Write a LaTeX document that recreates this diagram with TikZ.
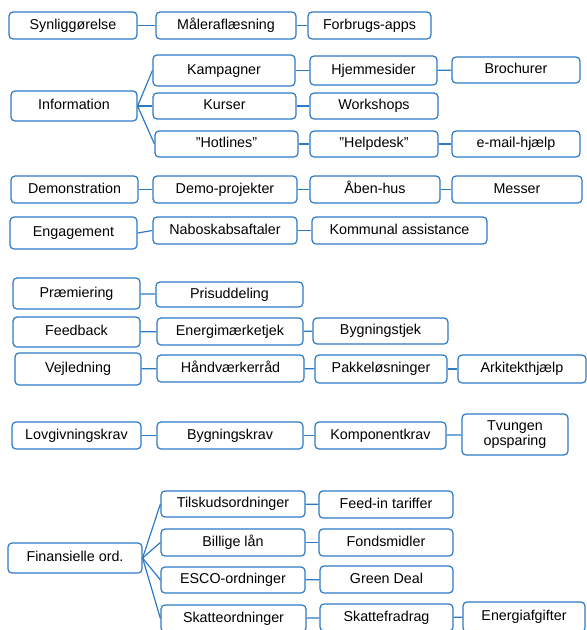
\documentclass[tikz,border=0pt]{standalone}
\usepackage{fontspec}
\setmainfont{Liberation Sans}
\definecolor{boksblaa}{RGB}{44,122,198}
\newcommand{\anf}{\symbol{34}}

\begin{document}
\begin{tikzpicture}[x=1pt, y=-1pt]
        % Stil for boksene
        \tikzstyle{boks}=[rectangle, draw=boksblaa, line width=1.2pt, rounded corners=4pt, fill=white,
                          minimum height=27pt, inner sep=1pt, align=center,
                          text height=10.5pt, text depth=3pt,
                          font=\fontsize{14.3}{13}\selectfont]
        \tikzstyle{streg}=[draw=boksblaa, line width=1.2pt]

        \useasboundingbox (0,0) rectangle (587,630);
        \clip (0,0) rectangle (587,630);

        % Synliggørelse
        \node[boks, minimum width=128pt] (synlig) at (73, 25.5) {Synliggørelse};
        \node[boks, minimum width=140pt] (maaler) at (226, 25.5) {Måleraflæsning};
        \node[boks, minimum width=123pt] (apps) at (369.5, 25.5) {Forbrugs-apps};

        % Information
        \node[boks, minimum width=126pt, minimum height=30pt] (info) at (74, 106) {Information};
        \node[boks, minimum width=142pt, minimum height=31pt] (kamp) at (224, 70.5) {Kampagner};
        \node[boks, minimum width=127pt, minimum height=29pt] (hjem) at (373.5, 70.5) {Hjemmesider};
        \node[boks, minimum width=128pt, minimum height=26pt] (broch) at (516, 70) {Brochurer};
        \node[boks, minimum width=143pt, minimum height=26pt] (kurs) at (224.5, 106) {Kurser};
        \node[boks, minimum width=128pt, minimum height=26pt] (work) at (374, 106) {Workshops};
        \node[boks, minimum width=143pt, minimum height=26pt] (hot) at (226.5, 144) {\anf Hotlines\anf};
        \node[boks, minimum width=128pt, minimum height=26pt] (help) at (374, 144) {\anf Helpdesk\anf};
        \node[boks, minimum width=128pt, minimum height=26pt] (mail) at (516, 144) {e-mail-hjælp};

        % Demonstration og engagement
        \node[boks, minimum width=127pt] (demo) at (74.5, 189.5) {Demonstration};
        \node[boks, minimum width=144pt] (demoproj) at (225, 189.5) {Demo-projekter};
        \node[boks, minimum width=130pt] (aaben) at (375, 189.5) {Åben-hus};
        \node[boks, minimum width=130pt] (messer) at (517, 189.5) {Messer};
        \node[boks, minimum width=127pt, minimum height=32pt] (engag) at (73.5, 233) {Engagement};
        \node[boks, minimum width=144pt] (nabo) at (225, 230.5) {Naboskabsaftaler};
        \node[boks, minimum width=175pt] (kommune) at (399.5, 230.5) {Kommunal assistance};

        % Præmiering, feedback og vejledning
        \node[boks, minimum width=127pt, minimum height=31pt] (praem) at (76.5, 293.5) {Præmiering};
        \node[boks, minimum width=147pt, minimum height=25pt] (pris) at (229.5, 294.5) {Prisuddeling};
        \node[boks, minimum width=127pt, minimum height=30pt] (feed) at (76.5, 332) {Feedback};
        \node[boks, minimum width=146pt] (emtjek) at (230, 331.5) {Energimærketjek};
        \node[boks, minimum width=135pt, minimum height=26pt] (bygtjek) at (380.5, 331) {Bygningstjek};
        \node[boks, minimum width=126pt, minimum height=32pt] (vejl) at (78, 369) {Vejledning};
        \node[boks, minimum width=147pt] (haandv) at (230.5, 368.5) {Håndværkerråd};
        \node[boks, minimum width=132pt, minimum height=28pt] (pakke) at (381, 369) {Pakkeløsninger};
        \node[boks, minimum width=128pt, minimum height=28pt] (arkit) at (522, 369) {Arkitekthjælp};

        % Lovgivning
        \node[boks, minimum width=129pt] (lov) at (76.5, 435.5) {Lovgivningskrav};
        \node[boks, minimum width=146pt] (bygkrav) at (230, 435.5) {Bygningskrav};
        \node[boks, minimum width=131pt] (kompkrav) at (380.5, 435.5) {Komponentkrav};
        \node[boks, minimum width=106pt, minimum height=41pt, text height=, text depth=,
              font=\fontsize{14.3}{11.5}\selectfont] (tvungen) at (515, 434.5) {Tvungen\\opsparing};

        % Finansielle ordninger
        \node[boks, minimum width=134pt, minimum height=30pt] (finans) at (75, 558) {Finansielle ord.};
        \node[boks, minimum width=144pt, minimum height=26pt] (tilskud) at (233, 504) {Tilskudsordninger};
        \node[boks, minimum width=134pt] (feedin) at (386, 504.5) {Feed-in tariffer};
        \node[boks, minimum width=144pt] (billig) at (233, 542.5) {Billige lån};
        \node[boks, minimum width=134pt] (fonds) at (386, 542.5) {Fondsmidler};
        \node[boks, minimum width=144pt, minimum height=26pt] (esco) at (233, 580) {ESCO-ordninger};
        \node[boks, minimum width=133pt] (green) at (386.5, 579.5) {Green Deal};
        \node[boks, minimum width=145pt] (skat) at (233.5, 618.5) {Skatteordninger};
        \node[boks, minimum width=133pt] (fradrag) at (386.5, 617.5) {Skattefradrag};
        \node[boks, minimum width=122pt, minimum height=30pt] (afgift) at (524, 617) {Energiafgifter};

        % Forbindelser
        \draw[streg] (synlig) -- (maaler);
        \draw[streg] (maaler) -- (apps);
        \draw[streg] (info.east) -- (kamp.west);
        \draw[streg] (info.east) -- (kurs.west);
        \draw[streg] (info.east) -- (hot.west);
        \draw[streg] (kamp) -- (hjem);
        \draw[streg] (hjem) -- (broch);
        \draw[streg] (kurs) -- (work);
        \draw[streg] (hot) -- (help);
        \draw[streg] (help) -- (mail);
        \draw[streg] (demo) -- (demoproj);
        \draw[streg] (demoproj) -- (aaben);
        \draw[streg] (aaben) -- (messer);
        \draw[streg] (engag.east) -- (nabo.west);
        \draw[streg] (nabo) -- (kommune);
        \draw[streg] (praem) -- (pris);
        \draw[streg] (feed) -- (emtjek);
        \draw[streg] (emtjek) -- (bygtjek);
        \draw[streg] (vejl) -- (haandv);
        \draw[streg] (haandv) -- (pakke);
        \draw[streg] (pakke) -- (arkit);
        \draw[streg] (lov) -- (bygkrav);
        \draw[streg] (bygkrav) -- (kompkrav);
        \draw[streg] (kompkrav) -- (tvungen);
        \draw[streg] (finans.east) -- (tilskud.west);
        \draw[streg] (finans.east) -- (billig.west);
        \draw[streg] (finans.east) -- (esco.west);
        \draw[streg] (finans.east) -- (skat.west);
        \draw[streg] (tilskud) -- (feedin);
        \draw[streg] (billig) -- (fonds);
        \draw[streg] (esco) -- (green);
        \draw[streg] (skat) -- (fradrag);
        \draw[streg] (fradrag) -- (afgift);
\end{tikzpicture}
\end{document}
